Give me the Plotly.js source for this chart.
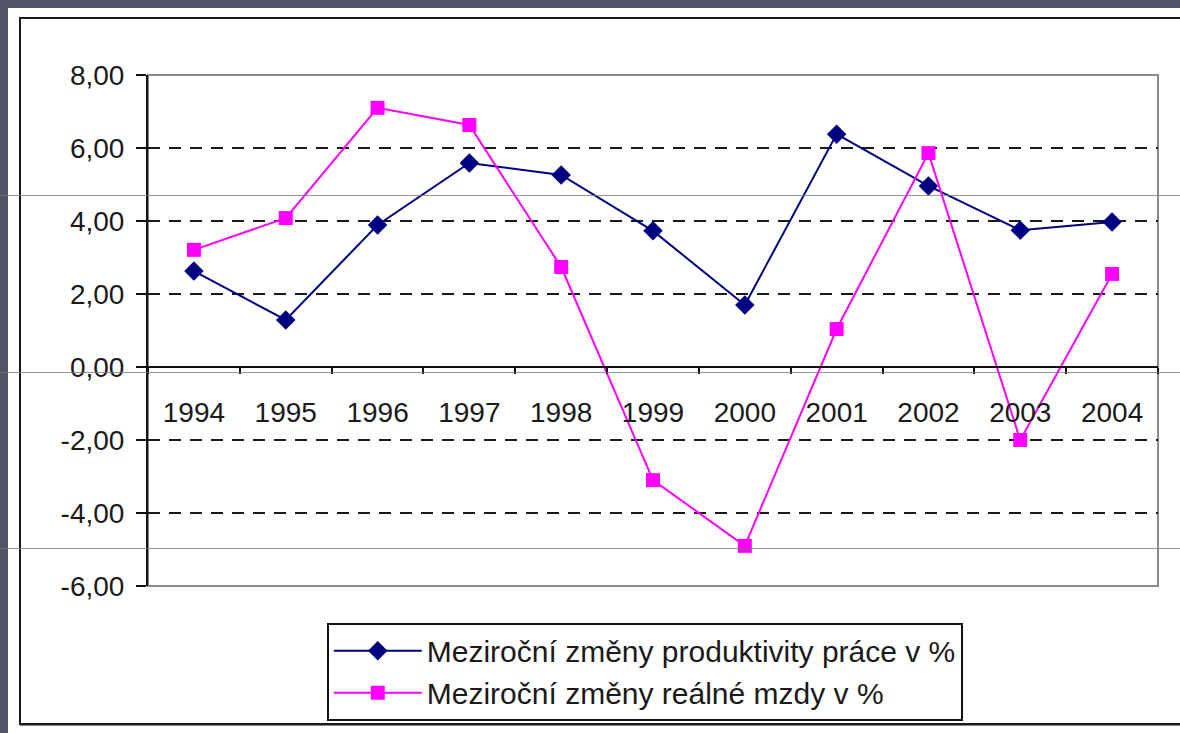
<!DOCTYPE html>
<html>
<head>
<meta charset="utf-8">
<script src="https://cdn.plot.ly/plotly-3.0.1.min.js"></script>
<style>
  html, body { margin: 0; padding: 0; }
  body { width: 1180px; height: 733px; background: #525466; position: relative; overflow: hidden; }
  #sheet { position: absolute; left: 8px; top: 8px; width: 1172px; height: 725px; background: #ffffff; }
  #chart { position: absolute; left: 0; top: 0; width: 1172px; height: 725px; }
  #frame { position: absolute; left: 19px; top: 17px; width: 1200px; height: 704px; border: 2px solid #1a1a1a; box-shadow: 1px 1px 0 #888; pointer-events: none; }
  .guide { position: absolute; left: 0; width: 1180px; height: 1px; background: rgba(120,120,130,0.75); pointer-events: none; }
</style>
</head>
<body>
<div id="sheet"><div id="chart"></div></div>
<div id="frame"></div>
<div class="guide" style="top:195px"></div>
<div class="guide" style="top:372px"></div>
<div class="guide" style="top:548px"></div>
<script>
const years = ["1994","1995","1996","1997","1998","1999","2000","2001","2002","2003","2004"];
const productivity = [2.63, 1.29, 3.89, 5.59, 5.26, 3.73, 1.70, 6.38, 4.96, 3.75, 3.97];
const realWages = [3.21, 4.08, 7.10, 6.63, 2.74, -3.10, -4.90, 1.04, 5.86, -2.00, 2.55];
const seriesNames = ["Meziroční změny produktivity práce v %", "Meziroční změny reálné mzdy v %"];
const yTickVals = [-6, -4, -2, 0, 2, 4, 6, 8];
const yTickText = ["-6,00", "-4,00", "-2,00", "0,00", "2,00", "4,00", "6,00", "8,00"];
const gridVals = [-4, -2, 2, 4, 6];

const FONT = "Liberation Sans, Arial, sans-serif";
const FS = 28;

const traces = [
  {
    x: years, y: productivity, name: seriesNames[0], type: "scatter", mode: "lines+markers",
    line: { color: "#000080", width: 2 },
    marker: { symbol: "diamond", size: 15, color: "#000080" }
  },
  {
    x: years, y: realWages, name: seriesNames[1], type: "scatter", mode: "lines+markers",
    line: { color: "#ff00ff", width: 2 },
    marker: { symbol: "square", size: 14, color: "#ff00ff" }
  },
  {
    x: [], y: [], yaxis: "y2", type: "scatter", mode: "lines", showlegend: false, hoverinfo: "skip"
  }
];

const layout = {
  width: 1172, height: 725,
  margin: { l: 140, r: 22, t: 67, b: 147 },
  paper_bgcolor: "rgba(0,0,0,0)",
  plot_bgcolor: "#ffffff",
  showlegend: true,
  font: { family: FONT, size: FS, color: "#1a1a1a" },
  xaxis: {
    type: "category",
    range: [-0.5, 10.5],
    anchor: "free", position: 6 / 14,
    showline: true, linecolor: "#111", linewidth: 2,
    ticks: "outside", ticklen: 6, tickwidth: 2, tickcolor: "#111",
    tickson: "boundaries",
    ticklabelstandoff: 20,
    showgrid: false, zeroline: false,
    tickfont: { family: FONT, size: FS, color: "#1a1a1a" }
  },
  yaxis: {
    range: [-6, 8],
    tickvals: yTickVals, ticktext: yTickText,
    showline: true, linecolor: "#111", linewidth: 2,
    ticks: "outside", ticklen: 10, tickwidth: 2, tickcolor: "#111",
    ticklabelstandoff: 6,
    showgrid: false,
    zeroline: false,
    tickfont: { family: FONT, size: FS, color: "#1a1a1a" }
  },
  yaxis2: {
    overlaying: "y", range: [-6, 8],
    tickvals: gridVals, showticklabels: false, ticks: "",
    showgrid: true, gridcolor: "#1a1a1a", gridwidth: 2, griddash: "12px,9px",
    zeroline: false, showline: false
  },
  shapes: [
    { type: "rect", xref: "paper", yref: "paper", x0: 0, x1: 1, y0: 0, y1: 1,
      line: { color: "#8a8a8a", width: 2 }, layer: "below" }
  ],
  legend: {
    x: 0.177, y: -0.072, xanchor: "left", yanchor: "top",
    bordercolor: "#111", borderwidth: 2, bgcolor: "#ffffff",
    font: { family: FONT, size: 30, color: "#1a1a1a" },
    itemwidth: 88,
    tracegroupgap: 0
  }
};

Plotly.newPlot("chart", traces, layout, { displayModeBar: false, staticPlot: true });
</script>
</body>
</html>
